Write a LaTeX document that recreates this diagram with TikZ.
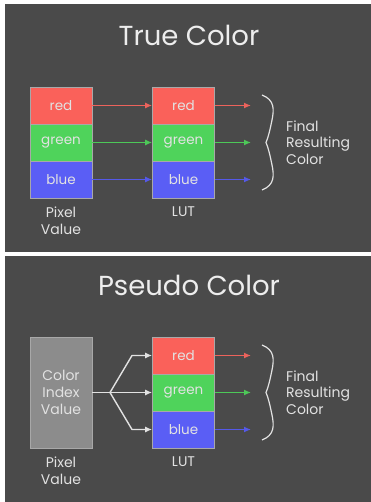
\documentclass[tikz,border=0pt]{standalone}
\usepackage{fontspec}
\setmainfont{Poppins}
\usetikzlibrary{arrows.meta}
\definecolor{bg}{HTML}{4A4A4A}
\definecolor{cred}{HTML}{FA615A}
\definecolor{cgreen}{HTML}{4FD35B}
\definecolor{cblue}{HTML}{5A5EF5}
\definecolor{ared}{HTML}{EC635C}
\definecolor{agreen}{HTML}{4DC858}
\definecolor{ablue}{HTML}{5559E8}
\definecolor{cgray}{HTML}{8C8C8C}
\definecolor{cborder}{HTML}{A8A8A8}
\definecolor{txt}{HTML}{E2E2E2}
\definecolor{ttl}{HTML}{EDEDED}
\begin{document}
\begin{tikzpicture}[x=1pt,y=-1pt,
  cell/.style={draw=cborder,line width=0.6pt,minimum width=62pt,minimum height=37pt,inner sep=0pt,text=txt,font=\fontsize{13.5}{15}\selectfont},
  arr/.style={line width=1.4pt,-{Latex[length=7pt,width=6pt]}},
  lbl/.style={text=txt,font=\fontsize{14}{16.7}\selectfont,align=center,inner sep=0pt},
  title/.style={text=ttl,font=\fontsize{27.5}{30}\selectfont,inner sep=0pt},
  brace/.style={draw=txt,line width=1.2pt}]
\useasboundingbox (0,0) rectangle (371,502);
\fill[white] (0,0) rectangle (371,502);
\fill[bg] (5,4) rectangle (371,252);
\fill[bg] (5,256) rectangle (371,502);

% ---------- True Color ----------
\node[title] (t1) at (189,35) {True Color};
\node[cell,fill=cred]   (p1r) at (61,105.5) {red};
\node[cell,fill=cgreen] (p1g) at (61,142.5) {green};
\node[cell,fill=cblue]  (p1b) at (61,179.5) {blue};
\node[cell,fill=cred]   (l1r) at (183.5,105.5) {red};
\node[cell,fill=cgreen] (l1g) at (183.5,142.5) {green};
\node[cell,fill=cblue]  (l1b) at (183.5,179.5) {blue};
\draw[arr,ared]   (p1r.east) -- (l1r.west);
\draw[arr,agreen] (p1g.east) -- (l1g.west);
\draw[arr,ablue]  (p1b.east) -- (l1b.west);
\coordinate (o1r) at (251,105.5);
\coordinate (o1g) at (251,142.5);
\coordinate (o1b) at (251,179.5);
\draw[arr,ared]   (l1r.east) -- (o1r);
\draw[arr,agreen] (l1g.east) -- (o1g);
\draw[arr,ablue]  (l1b.east) -- (o1b);
\draw[brace] (262,95) .. controls (275,100) and (274,110) .. (272,120)
  .. controls (270,130) and (268,138) .. (266,142.5)
  .. controls (268,147) and (270,155) .. (272,165)
  .. controls (274,175) and (275,185) .. (262,190);
\node[lbl,align=left,anchor=west] (f1) at (286,142.5) {Final\\Resulting\\Color};
\node[lbl] (pv1) at (61,220.5) {Pixel\\Value};
\node[lbl] (lut1) at (183.5,212) {LUT};

% ---------- Pseudo Color ----------
\node[title] (t2) at (189,285) {Pseudo Color};
\node[cell,fill=cgray,minimum height=111pt,font=\fontsize{14}{16.7}\selectfont,align=center] (p2) at (61,392.5) {Color\\Index\\Value};
\node[cell,fill=cred]   (l2r) at (183.5,355.5) {red};
\node[cell,fill=cgreen] (l2g) at (183.5,392.5) {green};
\node[cell,fill=cblue]  (l2b) at (183.5,429.5) {blue};
\coordinate (br) at (110,392.5);
\coordinate (bu) at (132,355.5);
\coordinate (bd) at (132,429.5);
\draw[line width=1.4pt,txt] (p2.east) -- (br);
\draw[arr,txt,line join=round] (br) -- (bu) -- (l2r.west);
\draw[arr,txt] (br) -- (l2g.west);
\draw[arr,txt,line join=round] (br) -- (bd) -- (l2b.west);
\coordinate (o2r) at (251,355.5);
\coordinate (o2g) at (251,392.5);
\coordinate (o2b) at (251,429.5);
\draw[arr,ared]   (l2r.east) -- (o2r);
\draw[arr,agreen] (l2g.east) -- (o2g);
\draw[arr,ablue]  (l2b.east) -- (o2b);
\draw[brace] (262,345) .. controls (275,350) and (274,360) .. (272,370)
  .. controls (270,380) and (268,388) .. (266,392.5)
  .. controls (268,397) and (270,405) .. (272,415)
  .. controls (274,425) and (275,435) .. (262,440);
\node[lbl,align=left,anchor=west] (f2) at (286,392.5) {Final\\Resulting\\Color};
\node[lbl] (pv2) at (61,470.5) {Pixel\\Value};
\node[lbl] (lut2) at (183.5,462) {LUT};
\end{tikzpicture}
\end{document}
